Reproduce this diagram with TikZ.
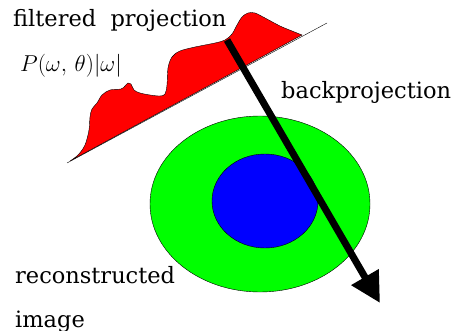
\documentclass[tikz,border=0pt]{standalone}
\usepackage{fix-cm}
\usepackage{fontspec}
\setmainfont{DejaVu Serif}
\usetikzlibrary{arrows.meta}

\begin{document}
\begin{tikzpicture}[x=1pt,y=-1pt,>={Triangle[width=30pt,length=30pt]},
    lbl/.style={anchor=base west,inner sep=0pt,font=\fontsize{22.5}{27}\selectfont}]
  \useasboundingbox (0,0) rectangle (462,331);
  % object: two ellipses
  \filldraw[fill={rgb,255:red,0;green,255;blue,0},thin] (260,204) ellipse [x radius=110,y radius=88];
  \filldraw[fill={rgb,255:red,0;green,0;blue,255},thin] (265,201) ellipse [x radius=53,y radius=47];
  % filtered projection profile
  \filldraw[fill={rgb,255:red,255;green,0;blue,0},thin] plot[smooth,tension=0.55] coordinates {
    (70,161) (78,155) (85,145) (89,130) (90,117) (92,109) (97,103) (102,95)
    (110,90) (121,89) (125,86) (128,83) (131,84) (134,90) (140,93) (150,95)
    (160,96) (165,94) (167,85) (168,68) (172,57) (180,51) (195,47) (215,43)
    (225,40) (232,34) (237,25) (242,17) (248,13) (255,13) (265,18) (280,26)
    (292,31) (302,35)} -- cycle;
  \coordinate (axisL) at (67,163);
  \coordinate (axisR) at (327,23);
  \draw[thin] (axisL) -- (axisR);
  % backprojection ray
  \coordinate (rayA) at (227,40);
  \coordinate (rayB) at (380,303);
  \draw[->,line width=7pt] (rayA) -- (rayB);
  % labels
  \node[lbl] (fp) at (13,27) {filtered~ projection};
  \node[lbl,font=\fontsize{23}{27}\selectfont] (pw) at (20,72) {$P(\omega,\,\theta)|\omega|$};
  \node[lbl] (bp) at (281,99) {backprojection};
  \node[lbl] (rec) at (15,283) {reconstructed};
  \node[lbl] (img) at (15,327) {image};
\end{tikzpicture}
\end{document}
